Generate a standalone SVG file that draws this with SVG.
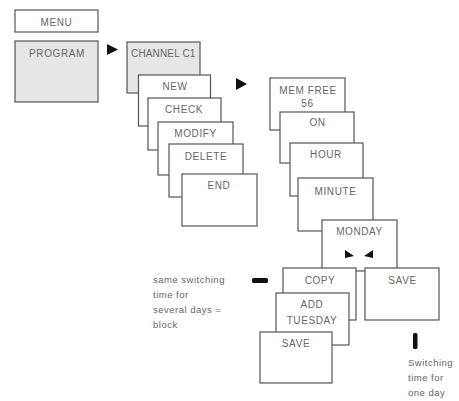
<svg xmlns="http://www.w3.org/2000/svg" width="459" height="401" viewBox="0 0 459 401">
<style>
.b{fill:#fff;stroke:#555;stroke-width:1.2}
.g{fill:#e6e6e6;stroke:#555;stroke-width:1.2}
text{font-family:"Liberation Sans",Arial,sans-serif;font-size:10px;fill:#666;letter-spacing:0.6px}
.c{text-anchor:middle}
.s{font-size:9.5px;letter-spacing:0.5px}
.a{fill:#111}
</style>
<rect width="459" height="401" fill="#fff"/>
<g id="menu"><rect class="b" x="15" y="10" width="83" height="22"/><text class="c" x="56.5" y="26">MENU</text></g>
<g id="program"><rect class="g" x="15" y="41" width="83" height="61"/><text class="c" x="57" y="57">PROGRAM</text></g>
<g id="channel"><rect class="g" x="127" y="42" width="73" height="51"/><text x="131" y="57" textLength="65">CHANNEL C1</text></g>
<g id="new"><rect class="b" x="138.5" y="75" width="72" height="51"/><text class="c" x="175" y="90">NEW</text></g>
<g id="check"><rect class="b" x="148" y="98" width="73" height="52"/><text class="c" x="184" y="113">CHECK</text></g>
<g id="modify"><rect class="b" x="158" y="122" width="75" height="53"/><text class="c" x="195.5" y="137">MODIFY</text></g>
<g id="delete"><rect class="b" x="169" y="144" width="74" height="53"/><text class="c" x="206" y="160">DELETE</text></g>
<g id="end"><rect class="b" x="182" y="174" width="75" height="52"/><text class="c" x="219" y="189">END</text></g>
<g id="memfree"><rect class="b" x="270" y="78" width="75" height="52"/><text class="c" x="308" y="94">MEM FREE</text><text class="c" x="307.5" y="107">56</text></g>
<g id="on"><rect class="b" x="280" y="112" width="74" height="51"/><text class="c" x="317.5" y="126">ON</text></g>
<g id="hour"><rect class="b" x="290" y="143" width="73" height="53"/><text class="c" x="326" y="158">HOUR</text></g>
<g id="minute"><rect class="b" x="298" y="178" width="75" height="53"/><text class="c" x="335.5" y="195">MINUTE</text></g>
<g id="monday"><rect class="b" x="322" y="220" width="75" height="51"/><text class="c" x="359.5" y="235">MONDAY</text>
<polygon class="a" points="345,250 354,256 345,258"/><polygon class="a" points="373,250 364,256 373,258"/></g>
<g id="copy"><rect class="b" x="283" y="268" width="73" height="52"/><text class="c" x="320" y="284">COPY</text></g>
<g id="save1"><rect class="b" x="365" y="268" width="74" height="52"/><text class="c" x="402.5" y="284">SAVE</text></g>
<g id="addtuesday"><rect class="b" x="276" y="293" width="73" height="52"/><text class="c" x="312" y="308">ADD</text><text class="c" x="312" y="324">TUESDAY</text></g>
<g id="save2"><rect class="b" x="260" y="332" width="72" height="51"/><text class="c" x="296" y="347">SAVE</text></g>
<g id="connectors">
<polygon class="a" points="107,44 118,49.5 107,55"/>
<polygon class="a" points="236,78 247,84 236,90"/>
<rect class="a" x="252" y="278" width="16" height="5" rx="1.5"/>
<rect class="a" x="413" y="333" width="4.5" height="16" rx="1.5"/>
</g>
<g id="notes">
<text class="s" x="153" y="283">same switching</text>
<text class="s" x="153" y="298">time for</text>
<text class="s" x="153" y="313">several days =</text>
<text class="s" x="153" y="328">block</text>
<text class="s" x="408" y="366">Switching</text>
<text class="s" x="408" y="381">time for</text>
<text class="s" x="408" y="396">one day</text>
</g>
</svg>
